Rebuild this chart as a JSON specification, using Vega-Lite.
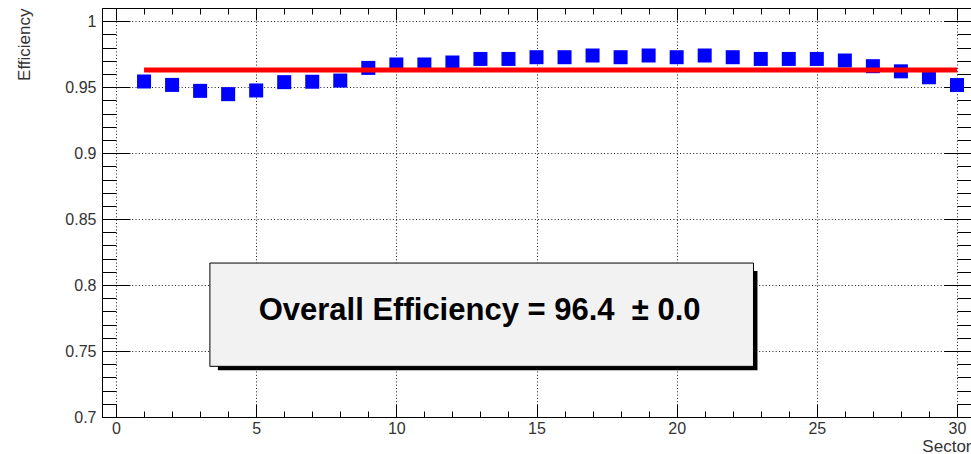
{
  "$schema": "https://vega.github.io/schema/vega-lite/v6.json",
  "width": 869,
  "height": 409,
  "autosize": {"type": "none"},
  "padding": {"left": 102, "top": 8, "right": 0, "bottom": 37},
  "background": "white",
  "config": {
    "view": {"stroke": "black", "strokeWidth": 1},
    "font": "Liberation Sans",
    "axis": {"labelFont": "Liberation Sans", "titleFont": "Liberation Sans", "labelOverlap": false, "labelBound": false, "labelFlush": false}
  },
  "datasets": {
    "eff": [
      {"sector": 1, "eff": 0.9543}, {"sector": 2, "eff": 0.9517}, {"sector": 3, "eff": 0.9472},
      {"sector": 4, "eff": 0.9447}, {"sector": 5, "eff": 0.9475}, {"sector": 6, "eff": 0.9538},
      {"sector": 7, "eff": 0.9541}, {"sector": 8, "eff": 0.955}, {"sector": 9, "eff": 0.9646},
      {"sector": 10, "eff": 0.9672}, {"sector": 11, "eff": 0.9672}, {"sector": 12, "eff": 0.9687},
      {"sector": 13, "eff": 0.9714}, {"sector": 14, "eff": 0.9714}, {"sector": 15, "eff": 0.9727},
      {"sector": 16, "eff": 0.9727}, {"sector": 17, "eff": 0.974}, {"sector": 18, "eff": 0.9727},
      {"sector": 19, "eff": 0.974}, {"sector": 20, "eff": 0.9727}, {"sector": 21, "eff": 0.974},
      {"sector": 22, "eff": 0.9727}, {"sector": 23, "eff": 0.9714}, {"sector": 24, "eff": 0.9714},
      {"sector": 25, "eff": 0.9714}, {"sector": 26, "eff": 0.9702}, {"sector": 27, "eff": 0.9659},
      {"sector": 28, "eff": 0.962}, {"sector": 29, "eff": 0.9575}, {"sector": 30, "eff": 0.9516}
    ],
    "fit": [{"sector": 1, "value": 0.9631}, {"sector": 30, "value": 0.9631}],
    "note": [{"label": "Overall Efficiency = 96.4 \u00a0± 0.0"}]
  },
  "resolve": {"axis": {"x": "independent", "y": "independent"}},
  "layer": [
    {
      "data": {"name": "eff"},
      "mark": {"type": "point", "shape": "square", "filled": true, "size": 196, "color": "#0000ff", "opacity": 1},
      "encoding": {
        "x": {
          "field": "sector", "type": "quantitative",
          "scale": {"domain": [-0.5, 30.5], "nice": false, "zero": false},
          "axis": {
            "orient": "bottom", "values": [0, 5, 10, 15, 20, 25, 30], "format": "d",
            "tickSize": -13, "tickColor": "black", "tickWidth": 1,
            "domain": true, "domainColor": "black", "domainWidth": 1,
            "labelFontSize": 16, "labelColor": "#333", "labelPadding": 16, "labelBaseline": "top", "labelAlign": "center",
            "grid": true, "gridColor": "black", "gridDash": [1, 2.3], "gridWidth": 1, "gridOpacity": 0.9,
            "title": "Sector", "titleFontSize": 17, "titleFontWeight": "normal", "titleColor": "#333",
            "titleX": 869, "titleY": 34, "titleAlign": "right", "titleBaseline": "alphabetic"
          }
        },
        "y": {
          "field": "eff", "type": "quantitative",
          "scale": {"domain": [0.7, 1.01], "nice": false, "zero": false},
          "axis": {
            "orient": "left", "values": [0.7, 0.75, 0.8, 0.85, 0.9, 0.95, 1], "format": "~g",
            "tickSize": -28, "tickColor": "black", "tickWidth": 1,
            "domain": true, "domainColor": "black", "domainWidth": 1,
            "labelFontSize": 16, "labelColor": "#333", "labelPadding": 34, "labelBaseline": "middle", "labelAlign": "right",
            "grid": true, "gridColor": "black", "gridDash": [1, 2.3], "gridWidth": 1, "gridOpacity": 0.9,
            "title": "Efficiency", "titleFontSize": 17, "titleFontWeight": "normal", "titleColor": "#333",
            "titleX": -72.5, "titleY": 0, "titleAngle": 270, "titleAlign": "right", "titleBaseline": "alphabetic"
          }
        }
      }
    },
    {
      "data": {"name": "fit"},
      "mark": {"type": "line", "color": "#ff0000", "strokeWidth": 5},
      "encoding": {
        "x": {
          "field": "sector", "type": "quantitative",
          "axis": {
            "orient": "bottom", "values": [0,1,2,3,4,5,6,7,8,9,10,11,12,13,14,15,16,17,18,19,20,21,22,23,24,25,26,27,28,29,30],
            "tickSize": -6, "tickColor": "black", "labels": false, "domain": false, "grid": false, "title": null
          }
        },
        "y": {
          "field": "value", "type": "quantitative",
          "axis": {
            "orient": "left", "values": [0.7,0.71,0.72,0.73,0.74,0.75,0.76,0.77,0.78,0.79,0.8,0.81,0.82,0.83,0.84,0.85,0.86,0.87,0.88,0.89,0.9,0.91,0.92,0.93,0.94,0.95,0.96,0.97,0.98,0.99,1,1.01],
            "tickSize": -14, "tickColor": "black", "labels": false, "domain": false, "grid": false, "title": null
          }
        }
      }
    },
    {
      "data": {"name": "note"},
      "mark": {"type": "rect", "color": "black", "xOffset": 8, "x2Offset": 4, "yOffset": 8, "y2Offset": 4},
      "encoding": {
        "x": {
          "datum": 3.349, "type": "quantitative",
          "axis": {
            "orient": "top", "values": [0, 5, 10, 15, 20, 25, 30],
            "tickSize": -12, "tickColor": "black", "labels": false, "domain": false, "grid": false, "title": null
          }
        },
        "x2": {"datum": 22.74},
        "y": {
          "datum": 0.8167, "type": "quantitative",
          "axis": {
            "orient": "right", "values": [0.7, 0.75, 0.8, 0.85, 0.9, 0.95, 1],
            "tickSize": -27, "tickColor": "black", "labels": false, "domain": false, "grid": false, "title": null
          }
        },
        "y2": {"datum": 0.7384}
      }
    },
    {
      "data": {"name": "note"},
      "mark": {"type": "rect", "fill": "#f2f2f2", "stroke": "black", "strokeWidth": 1},
      "encoding": {
        "x": {
          "datum": 3.349, "type": "quantitative",
          "axis": {
            "orient": "top", "values": [0,1,2,3,4,5,6,7,8,9,10,11,12,13,14,15,16,17,18,19,20,21,22,23,24,25,26,27,28,29,30],
            "tickSize": -6, "tickColor": "black", "labels": false, "domain": false, "grid": false, "title": null
          }
        },
        "x2": {"datum": 22.74},
        "y": {
          "datum": 0.8167, "type": "quantitative",
          "axis": {
            "orient": "right", "values": [0.7,0.71,0.72,0.73,0.74,0.75,0.76,0.77,0.78,0.79,0.8,0.81,0.82,0.83,0.84,0.85,0.86,0.87,0.88,0.89,0.9,0.91,0.92,0.93,0.94,0.95,0.96,0.97,0.98,0.99,1,1.01],
            "tickSize": -14, "tickColor": "black", "labels": false, "domain": false, "grid": false, "title": null
          }
        },
        "y2": {"datum": 0.7384}
      }
    },
    {
      "data": {"name": "note"},
      "mark": {"type": "text", "font": "Liberation Sans", "fontSize": 31, "fontWeight": "bold", "color": "black", "align": "center", "baseline": "alphabetic"},
      "encoding": {
        "x": {"datum": 12.97, "type": "quantitative", "axis": null},
        "y": {"datum": 0.7732, "type": "quantitative", "axis": null},
        "text": {"field": "label"}
      }
    }
  ]
}
